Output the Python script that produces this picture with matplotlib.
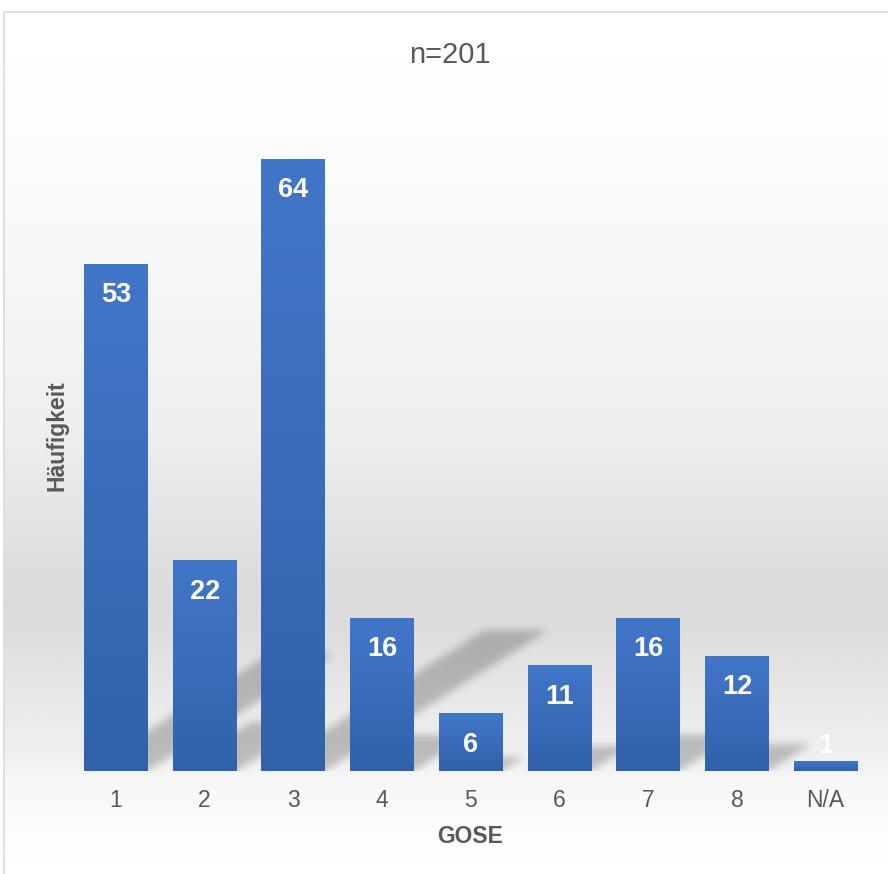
import matplotlib.pyplot as plt
import numpy as np
from matplotlib.colors import LinearSegmentedColormap
from matplotlib.patches import Rectangle

categories = ["1", "2", "3", "4", "5", "6", "7", "8", "N/A"]
counts = [53, 22, 64, 16, 6, 11, 16, 12, 1]
chart_title = "n=201"
x_title = "GOSE"
y_title = "Häufigkeit"

W, H, DPI = 888, 874, 100
TEXT = "#595959"
Y_MAX = 70

plt.rcParams["font.family"] = ["Liberation Sans", "DejaVu Sans"]


def gauss_blur(a, sigma):
    """Separable gaussian blur on a 2d array."""
    r = int(3 * sigma)
    k = np.exp(-0.5 * (np.arange(-r, r + 1) / sigma) ** 2)
    k /= k.sum()
    a = np.apply_along_axis(lambda v: np.convolve(v, k, mode="same"), 1, a)
    return np.apply_along_axis(lambda v: np.convolve(v, k, mode="same"), 0, a)


fig = plt.figure(figsize=(W / DPI, H / DPI), dpi=DPI)

# chart area background: grey band in the lower middle fading to white
bg = fig.add_axes([0, 0, 1, 1], zorder=0)
bg.set_xlim(0, W)
bg.set_ylim(H, 0)
bg.axis("off")
stop_y = [0, 20, 140, 340, 430, 510, 570, 605, 640, 700, 760, 780, 830, 874]
stop_g = [255, 255, 252, 243, 238, 229, 221, 219, 222, 232, 240, 246, 252, 255]
rows = np.interp(np.linspace(11.5, H, 400), stop_y, stop_g) / 255
bg.imshow(np.repeat(rows[:, None], 2, axis=1), cmap="gray", vmin=0, vmax=1,
          extent=(3.5, W + 10, H, 11.5), aspect="auto", interpolation="bilinear")
bg.add_patch(Rectangle((3.5, 11.5), W + 20, H + 20, fill=False, ec="#d9d9d9", lw=1.2))

# plot area
left_px, right_px, base_px = 71.6, 870.0, 771.0
top_px = base_px - Y_MAX * 9.5625
ax = fig.add_axes([left_px / W, 1 - base_px / H, (right_px - left_px) / W,
                   (base_px - top_px) / H], zorder=1)
ax.patch.set_alpha(0)

x = np.arange(len(categories))
bars = ax.bar(x, counts, width=0.72, color="none", zorder=3)

# perspective shadows: squashed to 23% height and skewed 20 degrees to the right
px_x = (right_px - left_px) / len(categories)
px_y = (base_px - top_px) / Y_MAX
skew = np.tan(np.radians(20)) / 0.23 * px_y / px_x
gx = np.linspace(-0.5, len(categories) - 0.5, 800)
gy = np.linspace(0, Y_MAX, 670)
GX, GY = np.meshgrid(gx, gy)
mask = np.zeros_like(GX)
for b in bars:
    x0, w, h = b.get_x(), b.get_width(), b.get_height()
    inside = (GY <= 0.23 * h) & (GX >= x0 + skew * GY) & (GX <= x0 + w + skew * GY)
    mask = np.maximum(mask, inside.astype(float))
shade = np.zeros(mask.shape + (4,))
shade[..., 3] = gauss_blur(mask, 4.0) * 0.22
ax.imshow(shade, extent=(gx[0], gx[-1], 0, Y_MAX), origin="lower",
          aspect="auto", zorder=2, interpolation="bilinear")

# bar fill: vertical gradient per bar
bar_cmap = LinearSegmentedColormap.from_list("bar", ["#3061aa", "#3a6cba", "#4276c8"])
grad = np.linspace(0, 1, 256)[:, None]
for b in bars:
    x0, w, h = b.get_x(), b.get_width(), b.get_height()
    ax.imshow(grad, cmap=bar_cmap, extent=(x0, x0 + w, 0, h), origin="lower",
              aspect="auto", zorder=3, interpolation="bilinear")

# value labels inside the top of each bar, lifted off the baseline for short bars
for xi, v in zip(x, counts):
    ax.text(xi, max(v - 3.97, 1.9), str(v), ha="center", va="baseline",
            color="white", fontsize=19.5, fontweight="bold", zorder=5)

ax.set_xlim(-0.5, len(categories) - 0.5)
ax.set_ylim(0, Y_MAX)
ax.set_xticks(x, categories)
ax.set_yticks([])
ax.tick_params(axis="x", length=0, labelsize=16.5, labelcolor=TEXT, pad=13)
for s in ax.spines.values():
    s.set_visible(False)

fig.text(450 / W, 1 - 63 / H, chart_title, ha="center", va="baseline",
         fontsize=21, color=TEXT)
fig.text(470.5 / W, 1 - 843 / H, x_title, ha="center", va="baseline",
         fontsize=16.5, fontweight="bold", color=TEXT)
fig.text(63 / W, 1 - 436 / H, y_title, rotation=90, rotation_mode="anchor",
         ha="center", va="baseline", fontsize=16.5, fontweight="bold", color=TEXT)

fig.savefig("out.png", dpi=DPI)
